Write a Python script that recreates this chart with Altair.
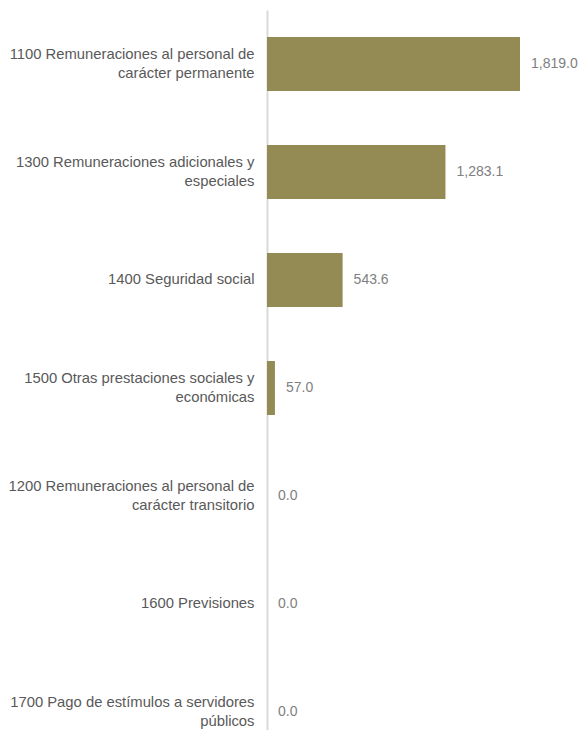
import altair as alt
import pandas as pd

categories = [
    "1100 Remuneraciones al personal de|carácter permanente",
    "1300 Remuneraciones adicionales y|especiales",
    "1400 Seguridad social",
    "1500 Otras prestaciones sociales y|económicas",
    "1200 Remuneraciones al personal de|carácter transitorio",
    "1600 Previsiones",
    "1700 Pago de estímulos a servidores|públicos",
]
values = [1819.0, 1283.1, 543.6, 57.0, 0.0, 0.0, 0.0]

df = pd.DataFrame({"cat": categories, "val": values})

y = alt.Y(
    "cat:N",
    sort=categories,
    title=None,
    scale=alt.Scale(paddingInner=0.5, paddingOuter=0.25),
    axis=alt.Axis(
        labelExpr="split(datum.label, '|')",
        labelFont="Liberation Sans",
        labelFontSize=14.8,
        labelColor="#595959",
        labelLineHeight=19,
        labelPadding=13,
        labelLimit=400,
        labelOffset={"condition": {"test": "indexof(datum.label, '|') >= 0", "value": -9.5}, "value": 0},
        ticks=False,
        domainColor="#d9d9d9",
        domainWidth=2,
        grid=False,
    ),
)
x = alt.X("val:Q", title=None, scale=alt.Scale(domain=[0, 2200]), axis=None)

bars = alt.Chart(df).mark_bar(color="#948A54").encode(x=x, y=y)
text = alt.Chart(df).mark_text(
    align="left", baseline="middle", dx=11, font="Liberation Sans",
    fontSize=14, color="#808080"
).encode(x=x, y=y, text=alt.Text("val:Q", format=",.1f"))

chart = (bars + text).properties(
    width=306, height=756,
    autosize=alt.AutoSizeParams(type="none"),
    padding={"top": 2, "left": 259, "right": 6, "bottom": 0},
).configure_view(stroke=None)

chart.save("out.html", embed_options={"renderer": "svg", "actions": False})
